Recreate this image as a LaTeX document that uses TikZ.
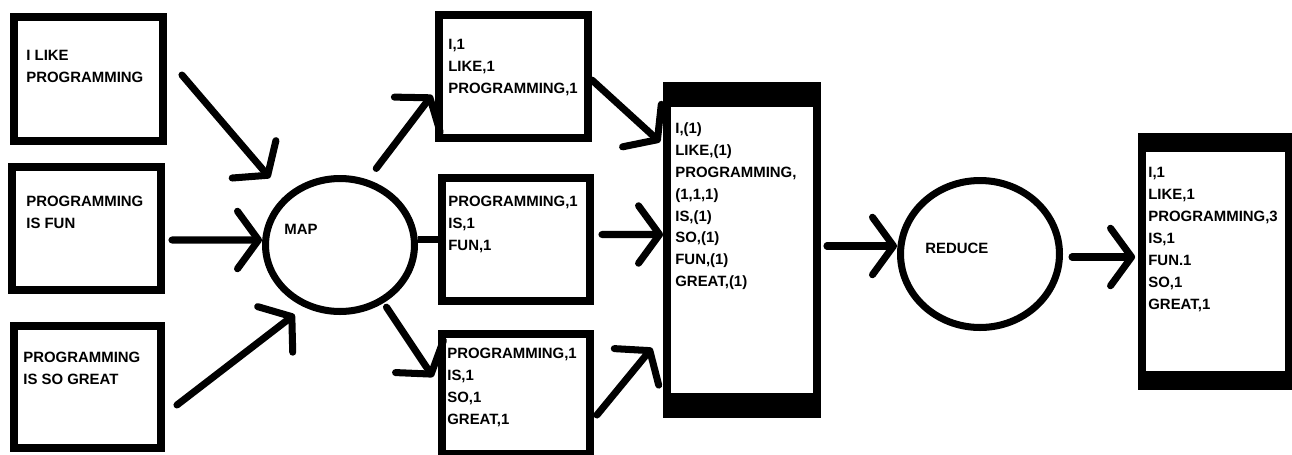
\documentclass[tikz,border=0pt]{standalone}
\usepackage{fontspec}
\setmainfont{Liberation Sans}
\usepackage{tikz}
\usetikzlibrary{arrows.meta,calc,shapes.geometric}

\begin{document}
\begin{tikzpicture}[x=0.02cm,y=-0.02cm,
    box/.style={draw,line width=4.5pt,inner sep=0pt},
    proc/.style={draw,ellipse,line width=4pt,inner sep=0pt},
    txt/.style={font=\fontsize{8.5}{12.5}\selectfont\bfseries,align=left,inner sep=0pt,anchor=north west},
    arr/.style={line width=4pt,line cap=round,-{Straight Barb[length=0.42cm,width=1.15cm,round]}},
    link/.style={line width=4pt}]
  \useasboundingbox (0,0) rectangle (1292,454);
  % input lines
  \node[box,minimum width=2.98cm,minimum height=2.48cm] (in1) at (88.5,79) {};
  \node[box,minimum width=2.98cm,minimum height=2.46cm] (in2) at (86.5,228.5) {};
  \node[box,minimum width=2.94cm,minimum height=2.44cm] (in3) at (87.5,387) {};
  \node[txt] (in1txt) at (26,50) {I LIKE\\PROGRAMMING};
  \node[txt] (in2txt) at (26,196) {PROGRAMMING\\IS FUN};
  \node[txt] (in3txt) at (23,352) {PROGRAMMING\\IS SO GREAT};
  % map step
  \node[proc,minimum width=2.98cm,minimum height=2.66cm] (map) at (340,245) {};
  \node[txt] (maptxt) at (284,224) {MAP};
  \node[box,minimum width=2.98cm,minimum height=2.46cm] (m1) at (513.5,76.5) {};
  \node[box,minimum width=2.96cm,minimum height=2.46cm] (m2) at (516,239.5) {};
  \node[box,minimum width=2.96cm,minimum height=2.40cm] (m3) at (516,394) {};
  \node[txt] (m1txt) at (448,39) {I,1\\LIKE,1\\PROGRAMMING,1};
  \node[txt] (m2txt) at (448,196) {PROGRAMMING,1\\IS,1\\FUN,1};
  \node[txt] (m3txt) at (447,348) {PROGRAMMING,1\\IS,1\\SO,1\\GREAT,1};
  % grouped pairs
  \node[box,minimum width=3.00cm,minimum height=6.56cm] (grp) at (742,250) {};
  \fill (grp.north west) rectangle ($(grp.north east)+(0,25)$);
  \fill (grp.south west) rectangle ($(grp.south east)+(0,-25)$);
  \node[txt] (grptxt) at (675,122) {I,(1)\\LIKE,(1)\\PROGRAMMING,\\(1,1,1)\\IS,(1)\\SO,(1)\\FUN,(1)\\GREAT,(1)};
  % reduce step
  \node[proc,minimum width=3.18cm,minimum height=2.94cm] (reduce) at (980,254) {};
  \node[txt] (redtxt) at (925,243) {REDUCE};
  \node[box,minimum width=2.94cm,minimum height=4.98cm] (out) at (1215.5,261.5) {};
  \fill (out.north west) rectangle ($(out.north east)+(0,19)$);
  \fill (out.south west) rectangle ($(out.south east)+(0,-19)$);
  \node[txt] (outtxt) at (1148,167) {I,1\\LIKE,1\\PROGRAMMING,3\\IS,1\\FUN.1\\SO,1\\GREAT,1};
  % arrows
  \draw[arr,shorten >=0.46cm] ($(in1.east)+(15,-4)$) -- (map.138);
  \draw[arr] ($(in2.east)+(7,11.5)$) -- ($(map.west)+(0,-5)$);
  \draw[arr,shorten >=0.24cm] ($(in3.east)+(12,18)$) -- (map.240);
  \draw[arr,shorten <=0.28cm] (map.67) -- ($(m1.west)+(-3,18.5)$);
  \draw[link] (map.east |- m2.west) -- (m2.west);
  \draw[arr,shorten <=0.1cm] (map.307) -- ($(m3.west)+(-5,-17)$);
  \draw[arr] ($(m1.east)+(0,3.5)$) -- ($(grp.north west)+(-3,60)$);
  \draw[arr] ($(m2.east)+(8,-5)$) -- ($(grp.west)+(0,-15.5)$);
  \draw[arr] ($(m3.east)+(3,21)$) -- ($(grp.south west)+(-11,-70)$);
  \draw[arr] ($(grp.east)+(6,-4)$) -- ($(reduce.west)+(0,-8)$);
  \draw[arr] ($(reduce.east)+(9,3)$) -- ($(out.west)+(-3,-4.5)$);
\end{tikzpicture}
\end{document}
